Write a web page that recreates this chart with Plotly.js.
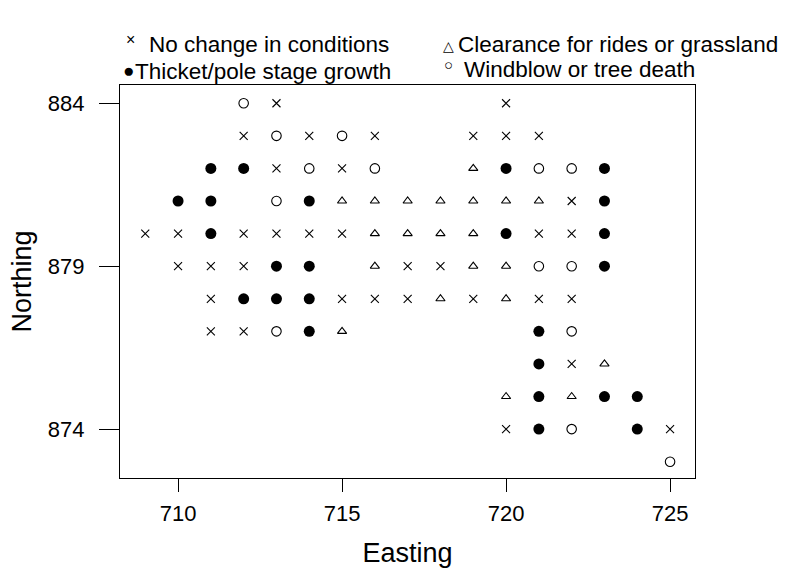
<!DOCTYPE html>
<html>
<head>
<meta charset="utf-8">
<script src="https://cdn.plot.ly/plotly-3.0.1.min.js"></script>
<style>html,body{margin:0;padding:0;background:#fff;}#chart{width:800px;height:568px;}</style>
</head>
<body>
<div id="chart"></div>
<script>
// Category labels
const categories = [
  "No change in conditions",
  "Thicket/pole stage growth",
  "Clearance for rides or grassland",
  "Windblow or tree death"
];

// No change in conditions (×)
const noChangeE = [713,720, 712,714,716,719,720,721, 713,715, 722, 709,710,712,713,714,715,721,722, 710,711,712,717,718, 711,715,716,717,719,721,722, 711,712, 722, 720,725];
const noChangeN = [884,884, 883,883,883,883,883,883, 882,882, 881, 880,880,880,880,880,880,880,880, 879,879,879,879,879, 878,878,878,878,878,878,878, 877,877, 876, 874,874];

// Thicket/pole stage growth (●)
const thicketE = [711,712,720,723, 710,711,714,723, 711,720,723, 713,714,723, 712,713,714, 714,721, 721, 721,723,724, 721,724];
const thicketN = [882,882,882,882, 881,881,881,881, 880,880,880, 879,879,879, 878,878,878, 877,877, 876, 875,875,875, 874,874];

// Clearance for rides or grassland (△)
const clearanceE = [719, 715,716,717,718,719,720,721, 716,717,718,719, 716,719,720, 718,720, 715, 723, 720,722];
const clearanceN = [882, 881,881,881,881,881,881,881, 880,880,880,880, 879,879,879, 878,878, 877, 876, 875,875];

// Windblow or tree death (○)
const windblowE = [712, 713,715, 714,716,721,722, 713, 721,722, 713,722, 722, 725];
const windblowN = [884, 883,883, 882,882,882,882, 881, 879,879, 877,877, 874, 873];

// Axis ticks
const xTicks = [710, 715, 720, 725];
const yTicks = [874, 879, 884];

const FONT = "Liberation Sans, Arial, Helvetica, sans-serif";

const traces = [
  {x: noChangeE, y: noChangeN, name: categories[0], type: "scatter", mode: "markers",
   marker: {symbol: "x-thin-open", size: 8, color: "#000", line: {color: "#000", width: 1.1}}},
  {x: thicketE, y: thicketN, name: categories[1], type: "scatter", mode: "markers",
   marker: {symbol: "circle", size: 11, color: "#000", line: {width: 0}}},
  {x: clearanceE, y: clearanceN, name: categories[2], type: "scatter", mode: "markers",
   marker: {symbol: "triangle-up-open", size: 8, color: "#000", line: {color: "#000", width: 1.1}}},
  {x: windblowE, y: windblowN, name: categories[3], type: "scatter", mode: "markers",
   marker: {symbol: "circle-open", size: 9.5, color: "#000", line: {color: "#000", width: 1.1}}}
];

// pixel -> paper helpers for legend text placement
const L = 120, R = 105, T = 85, B = 90, W = 800, H = 568;
const pw = W - L - R, ph = H - T - B;
const px = v => (v - L) / pw;
const py = v => (H - B - v) / ph;

function ann(text, x, y, size, anchor) {
  return {text: text, xref: "paper", yref: "paper", x: px(x), y: py(y),
    xanchor: anchor, yanchor: "middle", showarrow: false,
    font: {family: FONT, size: size, color: "#000"}, borderpad: 0};
}

const layout = {
  width: W, height: H,
  margin: {l: L, r: R, t: T, b: B, pad: 0},
  paper_bgcolor: "#fff", plot_bgcolor: "#fff",
  showlegend: false,
  font: {family: FONT, color: "#000"},
  xaxis: {
    range: [708.23, 725.76], tickvals: xTicks, ticktext: xTicks.map(String),
    ticks: "outside", ticklen: 13, tickwidth: 1, tickcolor: "#000",
    showline: true, mirror: true, linecolor: "#000", linewidth: 1.2,
    showgrid: false, zeroline: false,
    tickfont: {family: FONT, size: 22, color: "#000"},
    ticklabelstandoff: 2,
    title: {text: "Easting", font: {family: FONT, size: 27, color: "#000"}, standoff: 24}
  },
  yaxis: {
    range: [872.5, 884.56], tickvals: yTicks, ticktext: yTicks.map(String),
    ticks: "outside", ticklen: 20, tickwidth: 1, tickcolor: "#000",
    showline: true, mirror: true, linecolor: "#000", linewidth: 1.2,
    showgrid: false, zeroline: false,
    tickfont: {family: FONT, size: 22, color: "#000"},
    ticklabelstandoff: 10,
    title: {text: "Northing", font: {family: FONT, size: 27, color: "#000"}, standoff: 8}
  },
  annotations: [
    ann("×", 130, 40, 16, "center"),
    ann(categories[0], 148, 44, 22.5, "left"),
    ann("●", 128, 70, 19, "center"),
    ann(categories[1], 134, 71, 22.5, "left"),
    ann("△", 448, 46, 14, "center"),
    ann(categories[2], 457, 44, 22.5, "left"),
    ann("○", 448, 64, 15, "center"),
    ann(categories[3], 463, 69, 22.5, "left")
  ]
};

Plotly.newPlot("chart", traces, layout, {displayModeBar: false, staticPlot: true});
</script>
</body>
</html>
